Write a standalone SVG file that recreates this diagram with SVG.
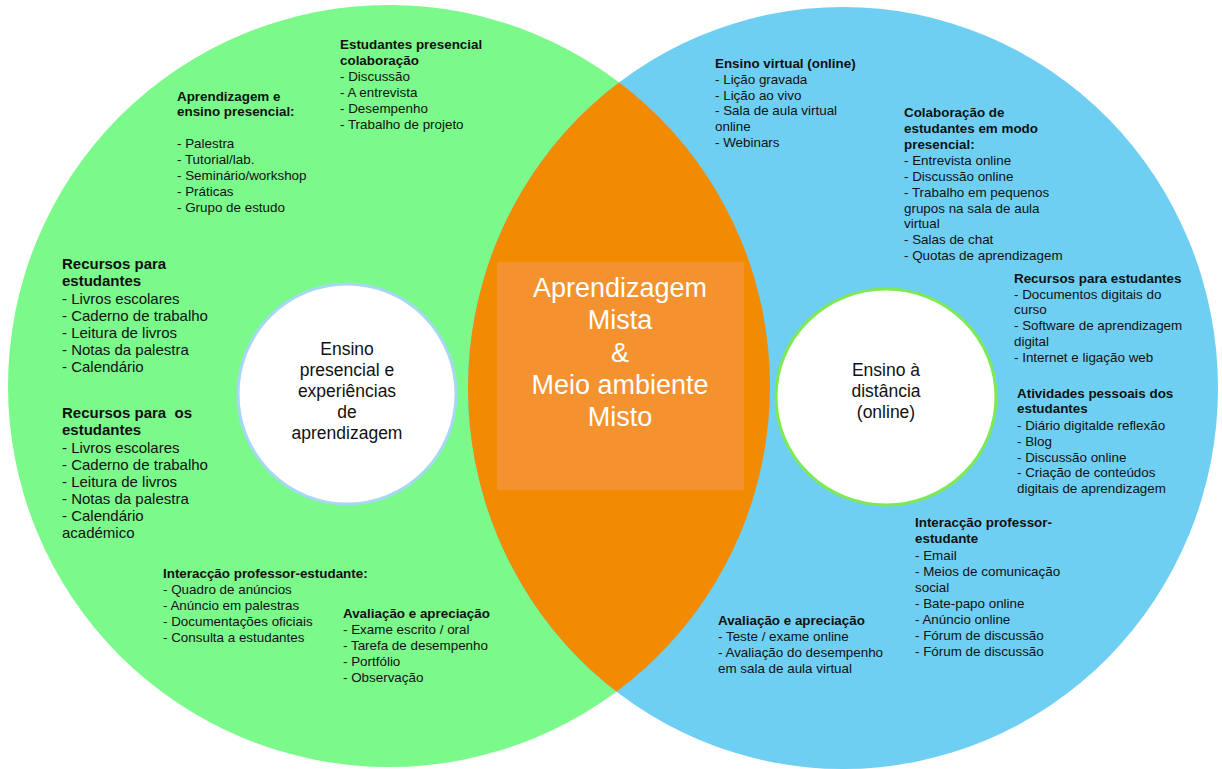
<svg xmlns="http://www.w3.org/2000/svg" width="1222" height="769" viewBox="0 0 1222 769">
<style>
.t{font-family:"Liberation Sans",Arial,sans-serif;font-size:13.4px;fill:#111;white-space:pre}
.tl{font-family:"Liberation Sans",Arial,sans-serif;font-size:15px;fill:#111;white-space:pre}
.b{font-weight:bold}
.c{font-family:"Liberation Sans",Arial,sans-serif;font-size:17.5px;fill:#111;text-anchor:middle}
.m{font-family:"Liberation Sans",Arial,sans-serif;font-size:27px;fill:#fff;text-anchor:middle}
</style>
<defs>
<clipPath id="greenClip"><ellipse cx="389" cy="386" rx="381" ry="381"/></clipPath>
</defs>
<rect width="1222" height="769" fill="#fff"/>
<g id="green-circle">
<ellipse cx="389" cy="386" rx="381" ry="381" fill="#7BF98B"/>
</g>
<g id="blue-circle">
<ellipse cx="843" cy="388" rx="375" ry="381" fill="#6FCFF3"/>
</g>
<g id="blended-center">
<ellipse cx="843" cy="388" rx="375" ry="381" fill="#F28A02" clip-path="url(#greenClip)"/>
<rect x="497" y="262" width="247" height="228" fill="#F3922F"/>
<text class="m" x="620" y="297">Aprendizagem</text>
<text class="m" x="620" y="329">Mista</text>
<text class="m" x="620" y="362">&amp;</text>
<text class="m" x="620" y="394">Meio ambiente</text>
<text class="m" x="620" y="426">Misto</text>
</g>
<g id="face-to-face-circle">
<ellipse cx="347" cy="394" rx="109" ry="110" fill="#fff" stroke="#A6D8F5" stroke-width="3"/>
<text class="c" x="347" y="355">Ensino</text>
<text class="c" x="347" y="376">presencial e</text>
<text class="c" x="347" y="397">experiências</text>
<text class="c" x="347" y="418">de</text>
<text class="c" x="347" y="439">aprendizagem</text>
</g>
<g id="online-circle">
<ellipse cx="886" cy="397" rx="110" ry="108" fill="#fff" stroke="#7EEA52" stroke-width="3"/>
<text class="c" x="886" y="376">Ensino à</text>
<text class="c" x="886" y="397">distância</text>
<text class="c" x="886" y="418">(online)</text>
</g>
<g id="left-collab">
<text class="t b" x="340" y="49">Estudantes presencial</text>
<text class="t b" x="340" y="65">colaboração</text>
<text class="t" x="340" y="81">- Discussão</text>
<text class="t" x="340" y="97">- A entrevista</text>
<text class="t" x="340" y="113">- Desempenho</text>
<text class="t" x="340" y="129">- Trabalho de projeto</text>
</g>
<g id="left-teaching">
<text class="t b" x="177" y="101">Aprendizagem e</text>
<text class="t b" x="177" y="116">ensino presencial:</text>
<text class="t" x="177" y="148">- Palestra</text>
<text class="t" x="177" y="164">- Tutorial/lab.</text>
<text class="t" x="177" y="180">- Seminário/workshop</text>
<text class="t" x="177" y="196">- Práticas</text>
<text class="t" x="177" y="212">- Grupo de estudo</text>
</g>
<g id="left-resources-1">
<text class="tl b" x="62" y="269">Recursos para</text>
<text class="tl b" x="62" y="286">estudantes</text>
<text class="tl" x="62" y="304">- Livros escolares</text>
<text class="tl" x="62" y="321">- Caderno de trabalho</text>
<text class="tl" x="62" y="338">- Leitura de livros</text>
<text class="tl" x="62" y="355">- Notas da palestra</text>
<text class="tl" x="62" y="372">- Calendário</text>
</g>
<g id="left-resources-2">
<text class="tl b" x="62" y="418">Recursos para  os</text>
<text class="tl b" x="62" y="435">estudantes</text>
<text class="tl" x="62" y="453">- Livros escolares</text>
<text class="tl" x="62" y="470">- Caderno de trabalho</text>
<text class="tl" x="62" y="487">- Leitura de livros</text>
<text class="tl" x="62" y="504">- Notas da palestra</text>
<text class="tl" x="62" y="521">- Calendário</text>
<text class="tl" x="62" y="538">académico</text>
</g>
<g id="left-interaction">
<text class="t b" x="163" y="578">Interacção professor-estudante:</text>
<text class="t" x="163" y="594">- Quadro de anúncios</text>
<text class="t" x="163" y="610">- Anúncio em palestras</text>
<text class="t" x="163" y="626">- Documentações oficiais</text>
<text class="t" x="163" y="642">- Consulta a estudantes</text>
</g>
<g id="left-assessment">
<text class="t b" x="343" y="618">Avaliação e apreciação</text>
<text class="t" x="343" y="634">- Exame escrito / oral</text>
<text class="t" x="343" y="650">- Tarefa de desempenho</text>
<text class="t" x="343" y="666">- Portfólio</text>
<text class="t" x="343" y="682">- Observação</text>
</g>
<g id="right-virtual">
<text class="t b" x="715" y="68">Ensino virtual (online)</text>
<text class="t" x="715" y="84">- Lição gravada</text>
<text class="t" x="715" y="100">- Lição ao vivo</text>
<text class="t" x="715" y="115">- Sala de aula virtual</text>
<text class="t" x="715" y="131">online</text>
<text class="t" x="715" y="147">- Webinars</text>
</g>
<g id="right-collab">
<text class="t b" x="904" y="117">Colaboração de</text>
<text class="t b" x="904" y="133">estudantes em modo</text>
<text class="t b" x="904" y="149">presencial:</text>
<text class="t" x="904" y="165">- Entrevista online</text>
<text class="t" x="904" y="181">- Discussão online</text>
<text class="t" x="904" y="197">- Trabalho em pequenos</text>
<text class="t" x="904" y="213">grupos na sala de aula</text>
<text class="t" x="904" y="228">virtual</text>
<text class="t" x="904" y="244">- Salas de chat</text>
<text class="t" x="904" y="260">- Quotas de aprendizagem</text>
</g>
<g id="right-resources">
<text class="t b" x="1014" y="283">Recursos para estudantes</text>
<text class="t" x="1014" y="299">- Documentos digitais do</text>
<text class="t" x="1014" y="314">curso</text>
<text class="t" x="1014" y="330">- Software de aprendizagem</text>
<text class="t" x="1014" y="346">digital</text>
<text class="t" x="1014" y="362">- Internet e ligação web</text>
</g>
<g id="right-activities">
<text class="t b" x="1017" y="398">Atividades pessoais dos</text>
<text class="t b" x="1017" y="413">estudantes</text>
<text class="t" x="1017" y="430">- Diário digitalde reflexão</text>
<text class="t" x="1017" y="446">- Blog</text>
<text class="t" x="1017" y="462">- Discussão online</text>
<text class="t" x="1017" y="477">- Criação de conteúdos</text>
<text class="t" x="1017" y="493">digitais de aprendizagem</text>
</g>
<g id="right-interaction">
<text class="t b" x="915" y="527">Interacção professor-</text>
<text class="t b" x="915" y="543">estudante</text>
<text class="t" x="915" y="560">- Email</text>
<text class="t" x="915" y="576">- Meios de comunicação</text>
<text class="t" x="915" y="592">social</text>
<text class="t" x="915" y="608">- Bate-papo online</text>
<text class="t" x="915" y="624">- Anúncio online</text>
<text class="t" x="915" y="640">- Fórum de discussão</text>
<text class="t" x="915" y="656">- Fórum de discussão</text>
</g>
<g id="right-assessment">
<text class="t b" x="718" y="625">Avaliação e apreciação</text>
<text class="t" x="718" y="641">- Teste / exame online</text>
<text class="t" x="718" y="657">- Avaliação do desempenho</text>
<text class="t" x="718" y="673">em sala de aula virtual</text>
</g>
<g id="connectors"></g>
</svg>
